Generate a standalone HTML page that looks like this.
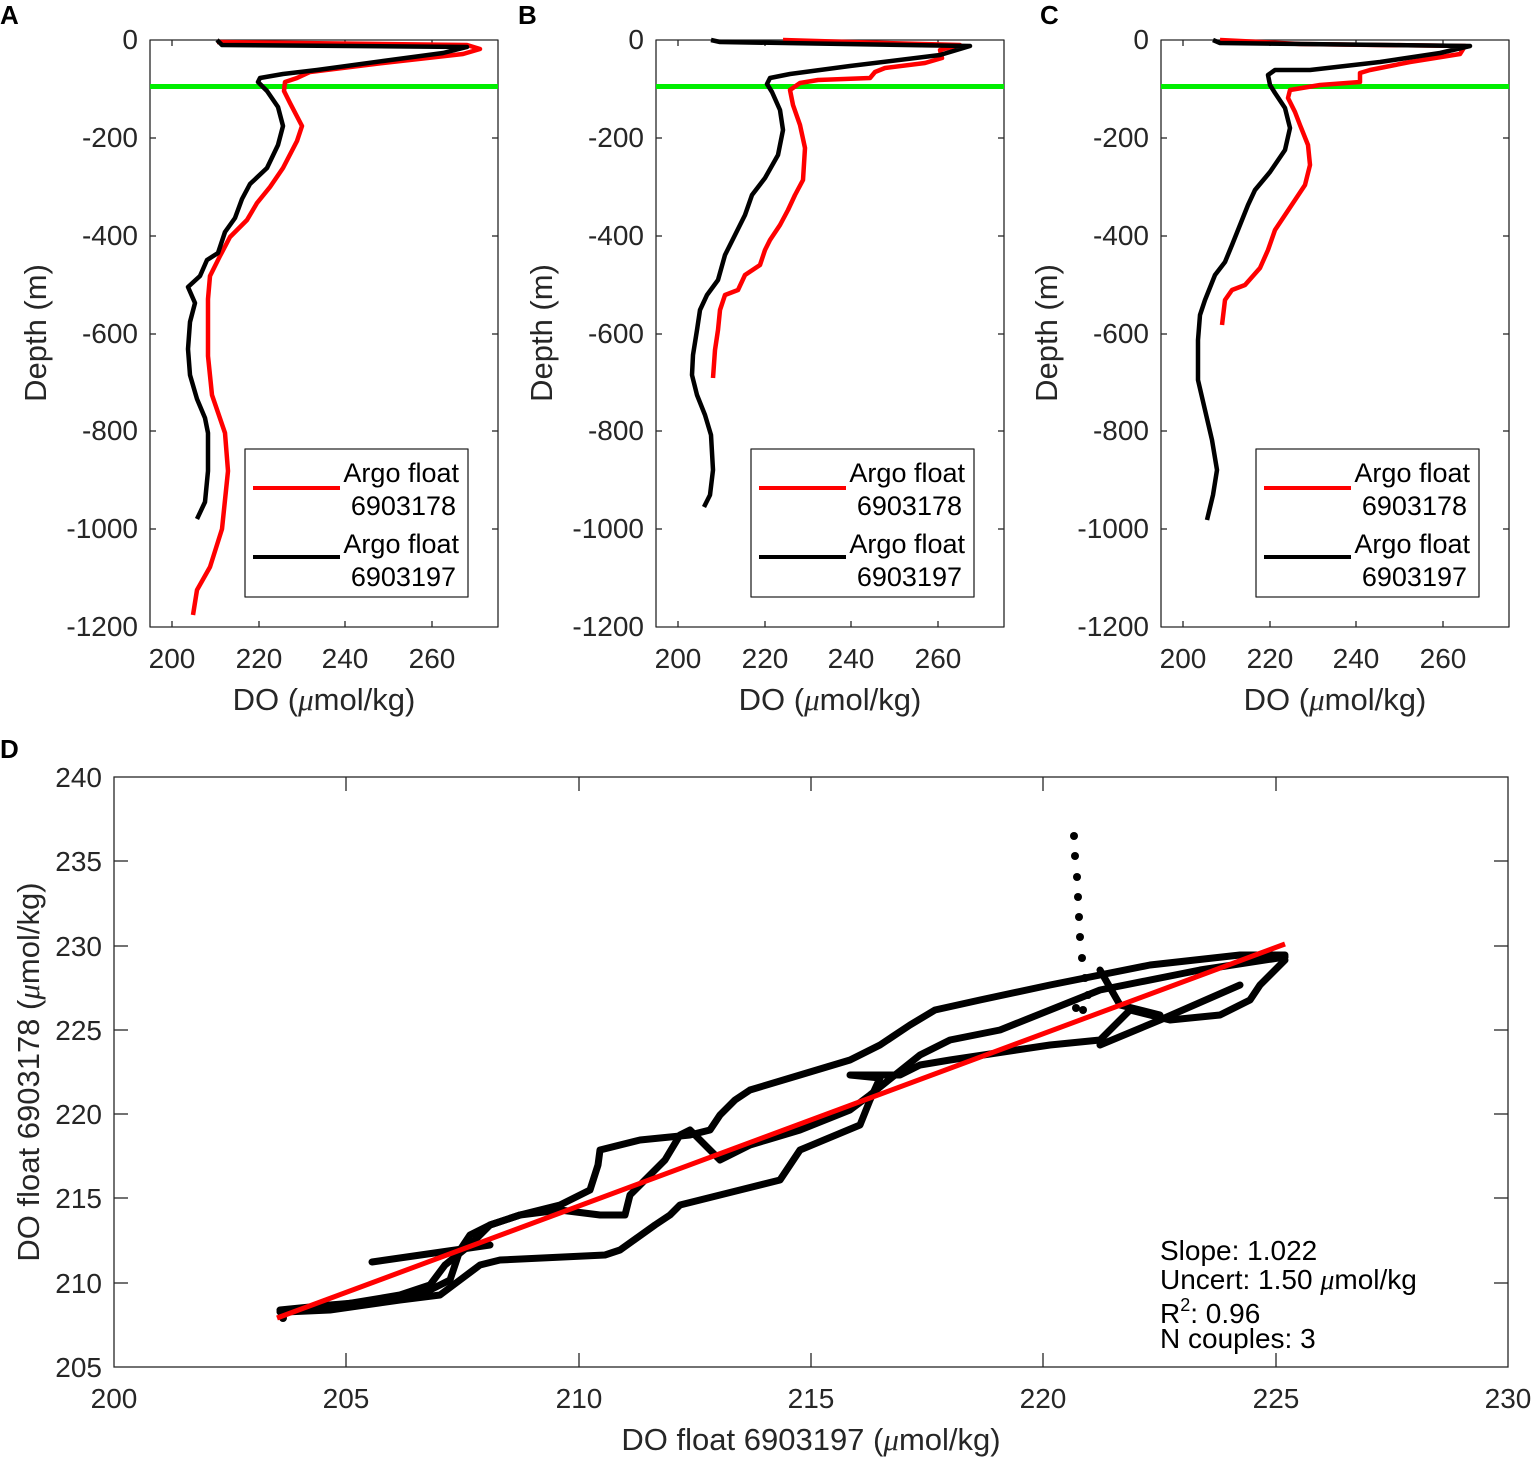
<!DOCTYPE html>
<html><head><meta charset="utf-8"><style>
html,body{margin:0;padding:0;background:#fff}
svg{display:block;font-family:"Liberation Sans",Arial,sans-serif}
</style></head><body>
<svg width="1540" height="1469" viewBox="0 0 1540 1469" xmlns="http://www.w3.org/2000/svg">
<defs>
<g id="ax">
<rect x="0" y="0" width="348" height="587" fill="none" stroke="#262626" stroke-width="1.3"/>
<g stroke="#262626" stroke-width="1.3">
<line x1="22" y1="587" x2="22" y2="581"/><line x1="109" y1="587" x2="109" y2="581"/><line x1="195" y1="587" x2="195" y2="581"/><line x1="282" y1="587" x2="282" y2="581"/>
<line x1="22" y1="0" x2="22" y2="6"/><line x1="109" y1="0" x2="109" y2="6"/><line x1="195" y1="0" x2="195" y2="6"/><line x1="282" y1="0" x2="282" y2="6"/>
<line x1="0" y1="98" x2="6" y2="98"/><line x1="0" y1="196" x2="6" y2="196"/><line x1="0" y1="294" x2="6" y2="294"/><line x1="0" y1="391" x2="6" y2="391"/><line x1="0" y1="489" x2="6" y2="489"/>
<line x1="348" y1="98" x2="342" y2="98"/><line x1="348" y1="196" x2="342" y2="196"/><line x1="348" y1="294" x2="342" y2="294"/><line x1="348" y1="391" x2="342" y2="391"/><line x1="348" y1="489" x2="342" y2="489"/>
</g>
<g font-size="28" fill="#262626" text-anchor="end">
<text x="-12" y="9">0</text><text x="-12" y="107">-200</text><text x="-12" y="205">-400</text><text x="-12" y="303">-600</text><text x="-12" y="400">-800</text><text x="-12" y="498">-1000</text><text x="-12" y="596">-1200</text>
</g>
<g font-size="28" fill="#262626" text-anchor="middle">
<text x="22" y="628">200</text><text x="109" y="628">220</text><text x="195" y="628">240</text><text x="282" y="628">260</text>
<text x="174" y="670" font-size="31">DO (<tspan font-style="italic" font-family="Liberation Serif">μ</tspan>mol/kg)</text>
<text transform="translate(-104,293) rotate(-90)" font-size="31">Depth (m)</text>
</g>
<line x1="0" y1="46.5" x2="348" y2="46.5" stroke="#00ee00" stroke-width="5"/>
</g>
<g id="leg">
<rect x="95" y="409" width="223" height="148" fill="#fff" stroke="#262626" stroke-width="1.3"/>
<line x1="103" y1="448" x2="190" y2="448" stroke="#f00" stroke-width="4"/>
<line x1="103" y1="517" x2="190" y2="517" stroke="#000" stroke-width="4"/>
<g font-size="27" fill="#000" text-anchor="end">
<text x="309" y="442">Argo float</text><text x="306" y="475">6903178</text>
<text x="309" y="513">Argo float</text><text x="306" y="546">6903197</text>
</g>
</g>
</defs>

<g font-size="26" font-weight="bold" fill="#000">
<text x="0" y="24">A</text><text x="518" y="24">B</text><text x="1040" y="24">C</text><text x="0" y="758">D</text>
</g>

<g fill="none" stroke-width="4.5" stroke-linejoin="round">
<!-- Panel A -->
<g transform="translate(150,40)"><use href="#ax"/></g>
<polyline stroke="#f00" points="217,42 467,45 480,49 463,54 383,63 310,72 297,78 285,82 284,91 290,103 302,126 297,141 283,168 270,187 257,203 247,220 230,237 220,256 210,276 208,299 208,356 212,395 225,433 228,471 222,529 210,567 197,590 193,615"/>
<polyline stroke="#000" points="217,40 222,45 467,47 443,53 383,61 317,70 283,74 260,78 258,82 267,91 278,107 283,126 278,145 267,168 250,184 242,199 235,218 225,232 218,253 207,260 200,276 188,287 195,303 190,322 188,349 190,375 197,399 205,418 208,433 208,471 205,502 197,519"/>
<g transform="translate(150,40)"><use href="#leg"/></g>

<!-- Panel B -->
<g transform="translate(656,40)"><use href="#ax"/></g>
<polyline stroke="#f00" points="783,40 850,42 960,45 940,50 942,58 925,63 885,68 875,72 870,78 818,80 800,83 790,90 793,105 800,125 805,148 803,180 795,195 788,210 780,225 770,240 765,250 760,265 745,275 738,290 725,295 720,310 718,330 715,350 713,378"/>
<polyline stroke="#000" points="711,40 720,42 970,46 940,55 850,66 790,74 770,78 767,84 772,92 780,110 783,130 778,155 765,178 752,195 745,215 735,235 725,255 718,280 707,295 700,310 697,330 693,355 692,375 697,395 705,415 711,435 713,470 710,495 704,507"/>
<g transform="translate(656,40)"><use href="#leg"/></g>

<!-- Panel C -->
<g transform="translate(1161,40)"><use href="#ax"/></g>
<polyline stroke="#f00" points="1220,40 1300,44 1465,46 1460,54 1410,62 1370,70 1360,73 1360,82 1320,85 1290,90 1288,98 1295,112 1300,125 1308,145 1310,165 1305,185 1295,200 1285,215 1275,230 1268,250 1260,268 1245,285 1232,290 1225,300 1222,325"/>
<polyline stroke="#000" points="1213,40 1220,43 1470,46 1440,53 1380,62 1310,70 1275,70 1268,75 1270,85 1275,93 1285,108 1290,128 1285,150 1270,172 1255,190 1248,205 1240,225 1232,245 1225,262 1215,275 1205,300 1200,315 1198,340 1198,380 1205,410 1212,440 1217,470 1213,495 1207,520"/>
<g transform="translate(1161,40)"><use href="#leg"/></g>
</g>

<!-- Panel D -->
<rect x="114" y="777" width="1394" height="590" fill="none" stroke="#262626" stroke-width="1.3"/>
<g stroke="#262626" stroke-width="1.3">
<line x1="346" y1="1367" x2="346" y2="1353"/><line x1="579" y1="1367" x2="579" y2="1353"/><line x1="811" y1="1367" x2="811" y2="1353"/><line x1="1043" y1="1367" x2="1043" y2="1353"/><line x1="1276" y1="1367" x2="1276" y2="1353"/>
<line x1="346" y1="777" x2="346" y2="791"/><line x1="579" y1="777" x2="579" y2="791"/><line x1="811" y1="777" x2="811" y2="791"/><line x1="1043" y1="777" x2="1043" y2="791"/><line x1="1276" y1="777" x2="1276" y2="791"/>
<line x1="114" y1="861" x2="128" y2="861"/><line x1="114" y1="946" x2="128" y2="946"/><line x1="114" y1="1030" x2="128" y2="1030"/><line x1="114" y1="1114" x2="128" y2="1114"/><line x1="114" y1="1198" x2="128" y2="1198"/><line x1="114" y1="1283" x2="128" y2="1283"/>
<line x1="1508" y1="861" x2="1494" y2="861"/><line x1="1508" y1="946" x2="1494" y2="946"/><line x1="1508" y1="1030" x2="1494" y2="1030"/><line x1="1508" y1="1114" x2="1494" y2="1114"/><line x1="1508" y1="1198" x2="1494" y2="1198"/><line x1="1508" y1="1283" x2="1494" y2="1283"/>
</g>
<g font-size="28" fill="#262626" text-anchor="end">
<text x="102" y="787">240</text><text x="102" y="871">235</text><text x="102" y="956">230</text><text x="102" y="1040">225</text><text x="102" y="1124">220</text><text x="102" y="1208">215</text><text x="102" y="1293">210</text><text x="102" y="1377">205</text>
</g>
<g font-size="28" fill="#262626" text-anchor="middle">
<text x="114" y="1408">200</text><text x="346" y="1408">205</text><text x="579" y="1408">210</text><text x="811" y="1408">215</text><text x="1043" y="1408">220</text><text x="1276" y="1408">225</text><text x="1508" y="1408">230</text>
<text x="811" y="1450" font-size="31">DO float 6903197 (<tspan font-style="italic" font-family="Liberation Serif">μ</tspan>mol/kg)</text>
<text transform="translate(39,1072) rotate(-90)" font-size="31">DO float 6903178 (<tspan font-style="italic" font-family="Liberation Serif">μ</tspan>mol/kg)</text>
</g>
<g fill="none" stroke="#000" stroke-width="7" stroke-linejoin="round" stroke-linecap="round">
<polyline points="1285,955 1240,955 1150,965 1050,985 980,1000 935,1010 910,1025 880,1045 850,1060 800,1075 750,1090 735,1100 720,1115 710,1130 690,1135 640,1140 600,1150 598,1165 590,1190 560,1205 520,1215 490,1225 470,1235 460,1250 455,1265 450,1280 430,1290 390,1300 330,1305 280,1310"/>
<polyline points="1285,957 1200,970 1100,990 1050,1010 1000,1030 950,1040 920,1055 895,1075 870,1095 850,1110 800,1130 750,1145 720,1160 690,1130 680,1135 665,1160 650,1175 630,1195 625,1215 600,1215 560,1210 520,1215 490,1225 470,1245 445,1265 430,1285 400,1295 340,1305 280,1312"/>
<polyline points="1285,960 1260,985 1250,1000 1220,1015 1170,1020 1130,1010 1100,1040 1050,1045 950,1060 920,1065 900,1075 870,1075 850,1075 880,1078 870,1100 860,1125 800,1150 790,1165 780,1180 740,1190 700,1200 680,1205 670,1215 655,1225 620,1250 605,1255 500,1260 480,1265 460,1280 440,1295 400,1300 330,1310 285,1312"/>
<polyline points="372,1262 490,1245"/>
<polyline points="1100,1045 1160,1020 1240,985"/>
<polyline points="1100,970 1120,1005 1160,1015"/>
</g>
<g fill="#000">
<circle cx="1074" cy="836" r="4"/><circle cx="1075" cy="856" r="4"/><circle cx="1077" cy="877" r="4"/><circle cx="1078" cy="897" r="4"/><circle cx="1079" cy="917" r="4"/><circle cx="1080" cy="937" r="4"/><circle cx="1082" cy="958" r="4"/><circle cx="1085" cy="978" r="4"/><circle cx="1088" cy="995" r="4"/><circle cx="1076" cy="1008" r="4"/><circle cx="1083" cy="1010" r="4"/><circle cx="283" cy="1318" r="4"/>
</g>
<line x1="277" y1="1318" x2="1285" y2="944" stroke="#f00" stroke-width="5"/>
<g font-size="28" fill="#000">
<text x="1160" y="1260">Slope: 1.022</text>
<text x="1160" y="1289">Uncert: 1.50 <tspan font-style="italic" font-family="Liberation Serif">μ</tspan>mol/kg</text>
<text x="1160" y="1323">R<tspan font-size="18" dy="-12">2</tspan><tspan dy="12">: 0.96</tspan></text>
<text x="1160" y="1348">N couples: 3</text>
</g>
</svg>
</body></html>
